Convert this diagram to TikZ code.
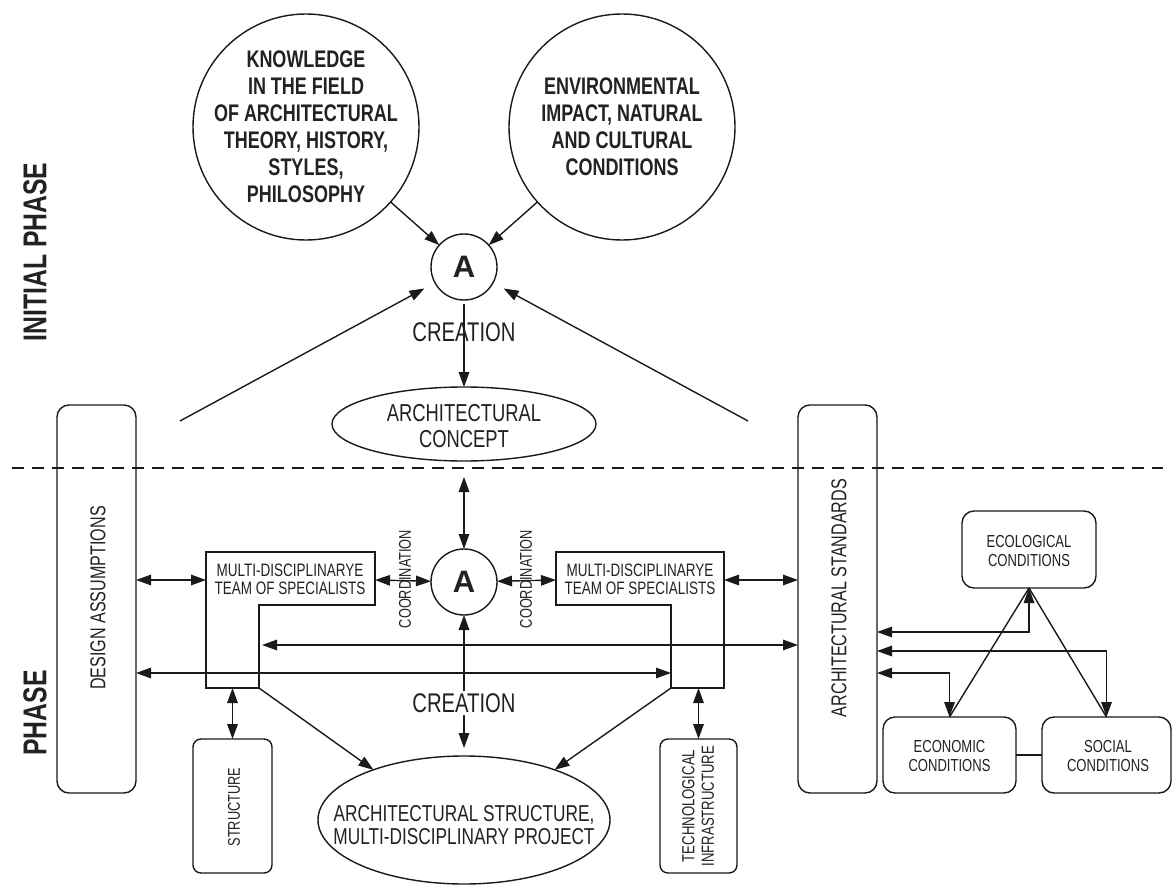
\documentclass[tikz,border=0pt]{standalone}
\usepackage{fontspec}
\setmainfont{Liberation Sans}
\newfontfamily\cnd[FakeStretch=0.75]{Liberation Sans}
\usetikzlibrary{arrows.meta,shapes.geometric}
\definecolor{ink}{HTML}{1A1A1A}
\definecolor{txt}{HTML}{222222}
\tikzset{
  >={Triangle[length=15pt,width=10.5pt]},
  ln/.style={draw=ink, line width=1.4pt},
  rbox/.style={ln, rectangle, rounded corners=#1},
  rbox/.default=12pt,
  bigtxt/.style={align=center, text=txt, font=\cnd\bfseries\fontsize{24}{27}\selectfont},
  phasetxt/.style={rotate=90, text=txt, font=\cnd\bfseries\fontsize{33}{33}\selectfont},
  lettera/.style={text=txt, font=\bfseries\fontsize{31}{31}\selectfont},
  creat/.style={text=txt, font=\cnd\fontsize{27}{27}\selectfont},
  mdtxt/.style={align=center, text=txt, font=\cnd\fontsize{18}{18}\selectfont},
  vtxt/.style={rotate=90, align=center, text=txt, font=\cnd\fontsize{#1}{#1}\selectfont},
  condtxt/.style={align=center, text=txt, font=\cnd\fontsize{17.4}{19}\selectfont},
}
\begin{document}
\begin{tikzpicture}[x=1pt,y=-1pt, every node/.style={inner sep=0pt, outer sep=0pt}]
\useasboundingbox (0,0) rectangle (1172,888);
\fill[white] (0,0) rectangle (1172,888);

% phase labels
\node[phasetxt] (ip) at (35,252) {INITIAL PHASE};
\node[phasetxt] (ph) at (35,713) {PHASE};

% top circles
\node[circle, ln, minimum size=226pt] (K) at (306,127) {};
\node[bigtxt] (Kt) at (306,127) {KNOWLEDGE\\IN THE FIELD\\OF ARCHITECTURAL\\THEORY, HISTORY,\\STYLES,\\PHILOSOPHY};
\node[circle, ln, minimum size=226pt] (E) at (622,127) {};
\node[bigtxt] (Et) at (622,127) {ENVIRONMENTAL\\IMPACT, NATURAL\\AND CULTURAL\\CONDITIONS};

\node[circle, ln, minimum size=66pt] (A1) at (464,267) {};
\node[lettera] (A1t) at (464,267) {A};

\node[ellipse, ln, minimum width=264pt, minimum height=74pt] (C) at (464,424) {};
\node[align=center, text=txt, font=\cnd\fontsize{24.5}{26}\selectfont] (Ct) at (464,426) {ARCHITECTURAL\\CONCEPT};

\draw[ln,->] (K) -- (A1);
\draw[ln,->] (E) -- (A1);
\coordinate (LL) at (180,421);
\coordinate (LR) at (748,421);
\draw[ln,->,shorten >=12pt] (LL) -- (A1);
\draw[ln,->,shorten >=12pt] (LR) -- (A1);
\draw[ln,->,shorten <=4pt] (A1) -- (C);
\node[creat] (cr1) at (464,332) {CREATION};

% dashed divider
\coordinate (d1) at (12,468);
\coordinate (d2) at (1163,468);
\draw[ln, line width=1.6pt, dash pattern=on 12pt off 8pt] (d1) -- (d2);

% side boxes
\node[rbox, minimum width=79pt, minimum height=388pt] (DA) at (96.5,599) {};
\node[vtxt=21.5] (DAt) at (98,598) {DESIGN ASSUMPTIONS};
\node[rbox, minimum width=79pt, minimum height=388pt] (AS) at (837.5,599) {};
\node[vtxt=21.5] (ASt) at (839,598) {ARCHITECTURAL STANDARDS};

% multidisciplinary team boxes
\draw[ln] (206,552) -- (375,552) -- (375,605) -- (259,605) -- (259,688) -- (206,688) -- cycle;
\node[mdtxt] (MDL) at (290,579) {MULTI-DISCIPLINARYE\\TEAM OF SPECIALISTS};
\draw[ln] (556,552) -- (724,552) -- (724,688) -- (671,688) -- (671,605) -- (556,605) -- cycle;
\node[mdtxt] (MDR) at (640,579) {MULTI-DISCIPLINARYE\\TEAM OF SPECIALISTS};
\coordinate (MDLw) at (206,580);
\coordinate (MDLe) at (375,580);
\coordinate (MDLi) at (259,688);
\coordinate (MDLb) at (232.5,688);
\coordinate (MDLin) at (259,645);
\coordinate (MDRw) at (556,580);
\coordinate (MDRe) at (724,580);
\coordinate (MDRi) at (671,688);
\coordinate (MDRb) at (698.5,688);
\coordinate (MDRin) at (671,673);

\node[circle, ln, minimum size=66pt] (A2) at (464,582) {};
\node[lettera] (A2t) at (464,582) {A};

\draw[ln,<->,shorten <=16pt] (C) -- (A2);
\draw[ln,<->] (MDLe) -- (A2);
\draw[ln,<->] (A2) -- (MDRw);
\node[vtxt=17] (co1) at (405,579) {COORDINATION};
\node[vtxt=17] (co2) at (526,579) {COORDINATION};

\draw[ln,<->] (DA.east |- MDLw) -- (MDLw);
\draw[ln,<->] (MDRe) -- (AS.west |- MDRe);
\draw[ln,<->,shorten <=3pt] (MDLin) -- (AS.west |- MDLin);
\draw[ln,<->] (DA.east |- MDRin) -- (MDRin);

% bottom
\node[ellipse, ln, minimum width=292pt, minimum height=128pt] (AST) at (464,820) {};
\node[align=center, text=txt, font=\cnd\fontsize{23}{23}\selectfont] (ASTt) at (464,825) {ARCHITECTURAL STRUCTURE,\\MULTI-DISCIPLINARY PROJECT};
\draw[ln,<->,shorten <=8pt] (AST) -- (A2);
\node[creat, fill=white, inner sep=2pt] (cr2) at (464,703) {CREATION};
\draw[ln,->] (MDLi) -- (AST.151);
\draw[ln,->] (MDRi) -- (AST.29);

\node[rbox=8pt, minimum width=79pt, minimum height=134pt] (ST) at (232.5,806) {};
\node[vtxt=17] (STt) at (234,807) {STRUCTURE};
\node[rbox=8pt, minimum width=77pt, minimum height=134pt] (TI) at (698.5,806) {};
\node[vtxt=17.5, font=\cnd\fontsize{17.5}{19.5}\selectfont] (TIt) at (698,806) {TECHNOLOGICAL\\INFRASTRUCTURE};
\draw[ln,<->] (MDLb) -- (ST);
\draw[ln,<->] (MDRb) -- (TI);

% conditions
\node[rbox, minimum width=134pt, minimum height=77pt] (ECO) at (1029,549.5) {};
\node[condtxt] (ECOt) at (1029,551) {ECOLOGICAL\\CONDITIONS};
\node[rbox, minimum width=133pt, minimum height=76pt] (ECN) at (949.5,755) {};
\node[condtxt] (ECNt) at (949.5,756) {ECONOMIC\\CONDITIONS};
\node[rbox, minimum width=129pt, minimum height=76pt] (SOC) at (1106.5,755) {};
\node[condtxt] (SOCt) at (1108,756) {SOCIAL\\CONDITIONS};

\draw[ln] (ECN.north) -- (ECO.south) -- (SOC.north);
\draw[ln] (ECN.east) -- (SOC.west);
\coordinate (y1) at (0,632);
\coordinate (y2) at (0,651);
\coordinate (y3) at (0,673);
\draw[ln,<->] (AS.east |- y1) -| (ECO.south);
\draw[ln,<->] (AS.east |- y2) -| (SOC.north);
\draw[ln,<->] (AS.east |- y3) -| (ECN.north);
\end{tikzpicture}
\end{document}
